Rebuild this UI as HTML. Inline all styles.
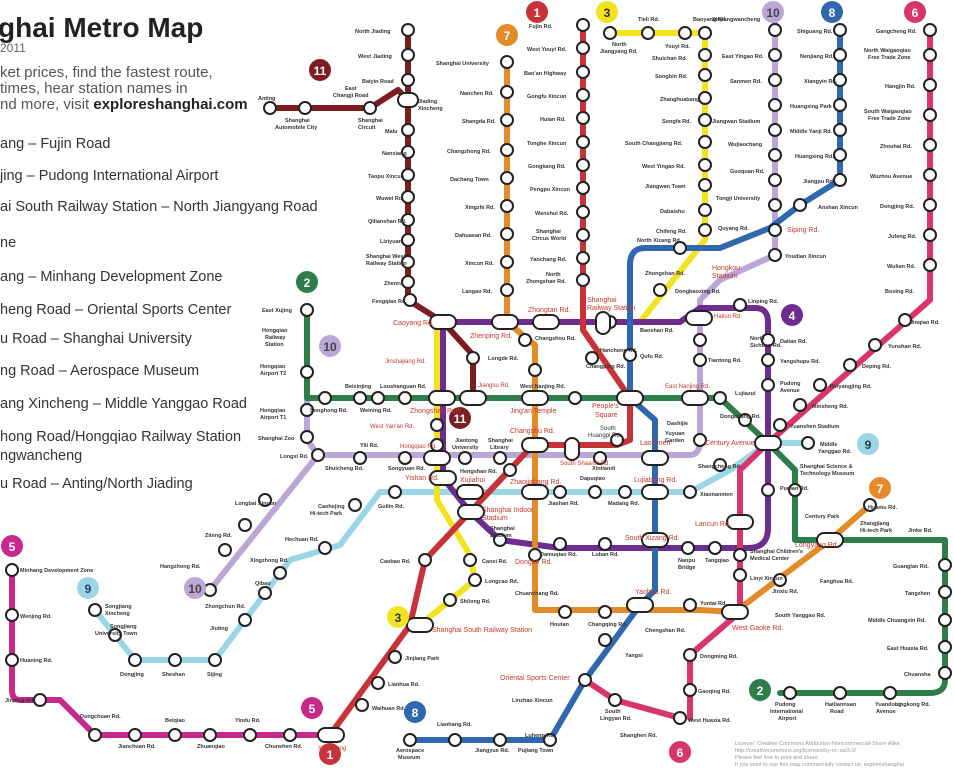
<!DOCTYPE html>
<html><head><meta charset="utf-8"><style>
html,body{margin:0;padding:0;background:#fff;width:954px;height:768px;overflow:hidden}
svg{position:absolute;left:0;top:0}
.t{font-family:"Liberation Sans",sans-serif}
</style></head><body>
<svg width="954" height="768" viewBox="0 0 954 768" xmlns="http://www.w3.org/2000/svg">
<g class="t" fill="#333">
<text x="-2" y="37" font-size="28" font-weight="bold" fill="#222">ghai Metro Map</text>
<text x="0" y="52" font-size="12" fill="#666">2011</text>
<text x="0" y="77" font-size="15" fill="#555">ket prices, find the fastest route,</text>
<text x="0" y="93" font-size="15" fill="#555">times, hear station names in</text>
<text x="0" y="109" font-size="15" fill="#555">nd more, visit <tspan font-weight="bold" fill="#222">exploreshanghai.com</tspan></text>
<g font-size="14.5" fill="#333">
<text x="0" y="148">ang – Fujin Road</text>
<text x="0" y="180">jing – Pudong International Airport</text>
<text x="0" y="211">ai South Railway Station – North Jiangyang Road</text>
<text x="0" y="247">ne</text>
<text x="0" y="281">ang – Minhang Development Zone</text>
<text x="0" y="314">heng Road – Oriental Sports Center</text>
<text x="0" y="343">u Road – Shanghai University</text>
<text x="0" y="375">ng Road – Aerospace Museum</text>
<text x="0" y="408">ang Xincheng – Middle Yanggao Road</text>
<text x="0" y="441">hong Road/Hongqiao Railway Station</text>
<text x="0" y="460">ngwancheng</text>
<text x="0" y="488">u Road – Anting/North Jiading</text>
</g>
</g>
<g fill="none" stroke-width="6" stroke-linejoin="round" stroke-linecap="round">
<path stroke="#bba6d8" d="M307,335 V440 L318,455 H690 Q700,455 700,440 V300 L720,280 L775,255 V20"/>
<path stroke="#bba6d8" d="M318,455 L210,590"/>
<path stroke="#9ad6e6" d="M95,610 L135,660 H215 L290,560 L340,545 L380,492 H690 L730,470 L768,443 H808"/>
<path stroke="#2e7d4a" d="M307,310 V398 H720 L768,443 L795,470 V540 H945 V680 Q945,693 930,693 H780"/>
<path stroke="#f2e21f" d="M610,33 H705 V240 L640,322 H437 V500 L470,555 L475,580 L420,625"/>
<path stroke="#6e2c8e" d="M443,322 H680 L700,308 H755 Q768,308 768,322 V528 Q768,548 748,548 H560 L500,540 L470,512 L443,478 V322"/>
<path stroke="#7c1d22" d="M408,30 V300 L443,322 L473,355 V398 M270,108 H370 L398,90 L408,100"/>
<path stroke="#e38a2a" d="M507,62 V322 L535,345 V610 H700 L735,612 L830,540 L870,505"/>
<path stroke="#2f68ae" d="M840,30 V180 L800,205 L770,228 L720,248 H645 Q630,248 630,265 V398 L655,420 V590 L640,605 L585,680 L550,740 H410"/>
<path stroke="#d8356e" d="M930,30 V300 L768,443 L740,470 V612 L690,655 V718 M585,680 L615,700 L680,718"/>
<path stroke="#c8333a" d="M583,25 V330 L630,398 V440 L617,445 H533 L425,560 L410,625 L330,735"/>
<path stroke="#c8288c" d="M330,735 H95 L60,700 H20 Q12,700 12,690 V570"/>
</g>
<g fill="#fff" stroke="#222" stroke-width="2">
<circle cx="307" cy="310" r="6"/><circle cx="307" cy="372" r="6"/><circle cx="307" cy="410" r="6"/><circle cx="307" cy="437" r="6"/><circle cx="318" cy="455" r="6"/><circle cx="325" cy="398" r="6"/><circle cx="360" cy="398" r="6"/><circle cx="378" cy="398" r="6"/><circle cx="405" cy="398" r="6"/><circle cx="575" cy="398" r="6"/><circle cx="720" cy="398" r="6"/><circle cx="745" cy="420" r="6"/>
<circle cx="360" cy="458" r="6"/><circle cx="405" cy="458" r="6"/><circle cx="465" cy="458" r="6"/><circle cx="500" cy="458" r="6"/><circle cx="600" cy="458" r="6"/><circle cx="700" cy="440" r="6"/><circle cx="700" cy="340" r="6"/><circle cx="700" cy="360" r="6"/>
<circle cx="775" cy="30" r="6"/><circle cx="775" cy="55" r="6"/><circle cx="775" cy="80" r="6"/><circle cx="775" cy="105" r="6"/><circle cx="775" cy="130" r="6"/><circle cx="775" cy="155" r="6"/><circle cx="775" cy="180" r="6"/><circle cx="775" cy="205" r="6"/><circle cx="775" cy="230" r="6"/><circle cx="775" cy="255" r="6"/>
<circle cx="265" cy="500" r="6"/><circle cx="245" cy="525" r="6"/><circle cx="225" cy="550" r="6"/><circle cx="210" cy="590" r="6"/>
<circle cx="95" cy="610" r="6"/><circle cx="115" cy="635" r="6"/><circle cx="135" cy="660" r="6"/><circle cx="175" cy="660" r="6"/><circle cx="215" cy="660" r="6"/><circle cx="245" cy="620" r="6"/><circle cx="265" cy="593" r="6"/><circle cx="280" cy="573" r="6"/><circle cx="325" cy="548" r="6"/><circle cx="355" cy="505" r="6"/><circle cx="395" cy="492" r="6"/><circle cx="560" cy="492" r="6"/><circle cx="595" cy="492" r="6"/><circle cx="625" cy="492" r="6"/><circle cx="690" cy="492" r="6"/><circle cx="720" cy="465" r="6"/><circle cx="808" cy="443" r="6"/>
<circle cx="795" cy="490" r="6"/><circle cx="945" cy="565" r="6"/><circle cx="945" cy="592" r="6"/><circle cx="945" cy="620" r="6"/><circle cx="945" cy="647" r="6"/><circle cx="945" cy="673" r="6"/><circle cx="890" cy="693" r="6"/><circle cx="840" cy="693" r="6"/><circle cx="790" cy="693" r="6"/>
<circle cx="610" cy="33" r="6"/><circle cx="648" cy="33" r="6"/><circle cx="685" cy="33" r="6"/><circle cx="705" cy="33" r="6"/><circle cx="705" cy="55" r="6"/><circle cx="705" cy="75" r="6"/><circle cx="705" cy="98" r="6"/><circle cx="705" cy="120" r="6"/><circle cx="705" cy="142" r="6"/><circle cx="705" cy="165" r="6"/><circle cx="705" cy="185" r="6"/><circle cx="705" cy="210" r="6"/><circle cx="705" cy="230" r="6"/><circle cx="660" cy="290" r="6"/>
<circle cx="437" cy="425" r="6"/><circle cx="437" cy="445" r="6"/><circle cx="470" cy="560" r="6"/><circle cx="475" cy="580" r="6"/><circle cx="450" cy="600" r="6"/>
<circle cx="740" cy="305" r="6"/><circle cx="768" cy="340" r="6"/><circle cx="768" cy="360" r="6"/><circle cx="768" cy="385" r="6"/><circle cx="768" cy="490" r="6"/><circle cx="715" cy="548" r="6"/><circle cx="688" cy="548" r="6"/><circle cx="605" cy="544" r="6"/><circle cx="560" cy="544" r="6"/><circle cx="500" cy="540" r="6"/><circle cx="545" cy="322" r="6"/><circle cx="610" cy="322" r="6"/>
<circle cx="408" cy="30" r="6"/><circle cx="408" cy="55" r="6"/><circle cx="408" cy="80" r="6"/><circle cx="408" cy="130" r="6"/><circle cx="408" cy="152" r="6"/><circle cx="408" cy="175" r="6"/><circle cx="408" cy="197" r="6"/><circle cx="408" cy="220" r="6"/><circle cx="408" cy="240" r="6"/><circle cx="408" cy="262" r="6"/><circle cx="408" cy="282" r="6"/><circle cx="410" cy="300" r="6"/><circle cx="270" cy="108" r="6"/><circle cx="305" cy="108" r="6"/><circle cx="370" cy="108" r="6"/><circle cx="473" cy="358" r="6"/>
<circle cx="507" cy="62" r="6"/><circle cx="507" cy="92" r="6"/><circle cx="507" cy="120" r="6"/><circle cx="507" cy="150" r="6"/><circle cx="507" cy="178" r="6"/><circle cx="507" cy="206" r="6"/><circle cx="507" cy="234" r="6"/><circle cx="507" cy="262" r="6"/><circle cx="507" cy="290" r="6"/><circle cx="525" cy="340" r="6"/><circle cx="535" cy="370" r="6"/><circle cx="535" cy="555" r="6"/><circle cx="565" cy="612" r="6"/><circle cx="605" cy="612" r="6"/><circle cx="690" cy="605" r="6"/><circle cx="780" cy="580" r="6"/><circle cx="870" cy="505" r="6"/>
<circle cx="840" cy="30" r="6"/><circle cx="840" cy="55" r="6"/><circle cx="840" cy="80" r="6"/><circle cx="840" cy="105" r="6"/><circle cx="840" cy="130" r="6"/><circle cx="840" cy="155" r="6"/><circle cx="840" cy="180" r="6"/><circle cx="800" cy="205" r="6"/><circle cx="680" cy="248" r="6"/><circle cx="630" cy="355" r="6"/><circle cx="605" cy="640" r="6"/><circle cx="585" cy="680" r="6"/><circle cx="550" cy="740" r="6"/><circle cx="500" cy="740" r="6"/><circle cx="455" cy="740" r="6"/><circle cx="410" cy="740" r="6"/>
<circle cx="930" cy="30" r="6"/><circle cx="930" cy="55" r="6"/><circle cx="930" cy="85" r="6"/><circle cx="930" cy="115" r="6"/><circle cx="930" cy="145" r="6"/><circle cx="930" cy="175" r="6"/><circle cx="930" cy="205" r="6"/><circle cx="930" cy="235" r="6"/><circle cx="930" cy="265" r="6"/><circle cx="905" cy="320" r="6"/><circle cx="875" cy="345" r="6"/><circle cx="850" cy="365" r="6"/><circle cx="820" cy="385" r="6"/><circle cx="800" cy="405" r="6"/><circle cx="780" cy="425" r="6"/><circle cx="740" cy="555" r="6"/><circle cx="740" cy="575" r="6"/><circle cx="690" cy="655" r="6"/><circle cx="690" cy="690" r="6"/><circle cx="680" cy="718" r="6"/><circle cx="615" cy="700" r="6"/>
<circle cx="583" cy="25" r="6"/><circle cx="583" cy="48" r="6"/><circle cx="583" cy="72" r="6"/><circle cx="583" cy="95" r="6"/><circle cx="583" cy="118" r="6"/><circle cx="583" cy="142" r="6"/><circle cx="583" cy="165" r="6"/><circle cx="583" cy="188" r="6"/><circle cx="583" cy="212" r="6"/><circle cx="583" cy="235" r="6"/><circle cx="583" cy="258" r="6"/><circle cx="583" cy="280" r="6"/><circle cx="592" cy="358" r="6"/><circle cx="617" cy="440" r="6"/><circle cx="510" cy="470" r="6"/><circle cx="425" cy="560" r="6"/><circle cx="395" cy="657" r="6"/><circle cx="378" cy="683" r="6"/><circle cx="362" cy="705" r="6"/>
<circle cx="290" cy="735" r="6"/><circle cx="250" cy="735" r="6"/><circle cx="210" cy="735" r="6"/><circle cx="175" cy="735" r="6"/><circle cx="135" cy="735" r="6"/><circle cx="95" cy="735" r="6"/><circle cx="40" cy="700" r="6"/><circle cx="12" cy="660" r="6"/><circle cx="12" cy="615" r="6"/><circle cx="12" cy="570" r="6"/>
<rect x="430" y="315" width="26" height="14" rx="7"/><rect x="492" y="315" width="26" height="14" rx="7"/><rect x="533" y="315" width="26" height="14" rx="7"/><rect x="596" y="312" width="14" height="22" rx="7"/><rect x="686" y="311" width="26" height="14" rx="7"/>
<rect x="429" y="391" width="26" height="14" rx="7"/><rect x="460" y="391" width="26" height="14" rx="7"/><rect x="522" y="391" width="26" height="14" rx="7"/><rect x="617" y="391" width="26" height="14" rx="7"/><rect x="682" y="391" width="26" height="14" rx="7"/>
<rect x="424" y="451" width="26" height="14" rx="7"/><rect x="522" y="438" width="26" height="14" rx="7"/><rect x="565" y="438" width="14" height="22" rx="7"/><rect x="642" y="451" width="26" height="14" rx="7"/>
<rect x="430" y="471" width="26" height="14" rx="7"/><rect x="457" y="485" width="26" height="14" rx="7"/><rect x="522" y="485" width="26" height="14" rx="7"/><rect x="642" y="485" width="26" height="14" rx="7"/><rect x="458" y="505" width="26" height="14" rx="7"/>
<rect x="755" y="436" width="26" height="14" rx="7"/><rect x="642" y="533" width="26" height="14" rx="7"/><rect x="727" y="515" width="26" height="14" rx="7"/><rect x="817" y="533" width="26" height="14" rx="7"/>
<rect x="407" y="618" width="26" height="14" rx="7"/><rect x="627" y="598" width="26" height="14" rx="7"/><rect x="722" y="605" width="26" height="14" rx="7"/><rect x="318" y="728" width="26" height="14" rx="7"/><rect x="398" y="93" width="20" height="14" rx="7"/>
</g>
<g class="t" font-size="12" font-weight="bold" fill="#fff" text-anchor="middle">
<circle cx="537" cy="12" r="11" fill="#c8333a"/><text x="537" y="17">1</text>
<circle cx="330" cy="754" r="11" fill="#c8333a"/><text x="330" y="759">1</text>
<circle cx="307" cy="282" r="11" fill="#2e7d4a"/><text x="307" y="287">2</text>
<circle cx="760" cy="690" r="11" fill="#2e7d4a"/><text x="760" y="695">2</text>
<circle cx="607" cy="12" r="11" fill="#f2e21f"/><text x="607" y="17" fill="#333">3</text>
<circle cx="398" cy="617" r="11" fill="#f2e21f"/><text x="398" y="622" fill="#333">3</text>
<circle cx="792" cy="315" r="11" fill="#6e2c8e"/><text x="792" y="320">4</text>
<circle cx="12" cy="546" r="11" fill="#c8288c"/><text x="12" y="551">5</text>
<circle cx="312" cy="708" r="11" fill="#c8288c"/><text x="312" y="713">5</text>
<circle cx="915" cy="12" r="11" fill="#d8356e"/><text x="915" y="17">6</text>
<circle cx="680" cy="752" r="11" fill="#d8356e"/><text x="680" y="757">6</text>
<circle cx="507" cy="35" r="11" fill="#e38a2a"/><text x="507" y="40">7</text>
<circle cx="880" cy="488" r="11" fill="#e38a2a"/><text x="880" y="493">7</text>
<circle cx="832" cy="12" r="11" fill="#2f68ae"/><text x="832" y="17">8</text>
<circle cx="415" cy="712" r="11" fill="#2f68ae"/><text x="415" y="717">8</text>
<circle cx="868" cy="444" r="11" fill="#9ad6e6"/><text x="868" y="449" fill="#245">9</text>
<circle cx="88" cy="588" r="11" fill="#9ad6e6"/><text x="88" y="593" fill="#245">9</text>
<circle cx="773" cy="12" r="11" fill="#bba6d8"/><text x="773" y="17" fill="#444">10</text>
<circle cx="330" cy="346" r="11" fill="#bba6d8"/><text x="330" y="351" fill="#444">10</text>
<circle cx="195" cy="588" r="11" fill="#bba6d8"/><text x="195" y="593" fill="#444">10</text>
<circle cx="320" cy="70" r="11" fill="#7c1d22"/><text x="320" y="75">11</text>
<circle cx="460" cy="418" r="11" fill="#7c1d22"/><text x="460" y="423">11</text>
</g>
<g class="t" font-size="5.5" font-weight="bold" fill="#333">
<text x="355" y="33">North Jiading</text><text x="358" y="58">West Jiading</text><text x="362" y="83">Baiyin Road</text>
<text x="258" y="100">Anting</text><text x="285" y="122">Shanghai</text><text x="275" y="129">Automobile City</text><text x="358" y="122">Shanghai</text><text x="358" y="129">Circuit</text><text x="345" y="90">East</text><text x="333" y="97">Changji Road</text><text x="418" y="103">Jiading</text><text x="418" y="110">Xincheng</text>
<text x="385" y="133">Malu</text><text x="382" y="155">Nanxiang</text><text x="368" y="178">Taopu Xincun</text><text x="376" y="200">Wuwei Rd.</text><text x="368" y="223">Qilianshan Rd.</text><text x="380" y="243">Liziyuan</text><text x="366" y="258">Shanghai West</text><text x="366" y="265">Railway Station</text><text x="384" y="285">Zhenru</text><text x="372" y="303">Fengqiao Rd.</text>
<text x="436" y="65">Shanghai University</text><text x="460" y="95">Nanchen Rd.</text><text x="462" y="123">Shangda Rd.</text><text x="447" y="153">Changzhong Rd.</text><text x="450" y="181">Dachang Town</text><text x="465" y="209">Xingzhi Rd.</text><text x="455" y="237">Dahuasan Rd.</text><text x="465" y="265">Xincun Rd.</text><text x="462" y="293">Langao Rd.</text>
<text x="529" y="28">Fujin Rd.</text><text x="527" y="51">West Youyi Rd.</text><text x="524" y="75">Bao'an Highway</text><text x="527" y="98">Gongfu Xincun</text><text x="540" y="121">Hulan Rd.</text><text x="527" y="145">Tonghe Xincun</text><text x="528" y="168">Gongkang Rd.</text><text x="530" y="191">Pengpu Xincun</text><text x="535" y="215">Wenshui Rd.</text><text x="536" y="233">Shanghai</text><text x="532" y="240">Circus World</text><text x="530" y="261">Yanchang Rd.</text><text x="546" y="276">North</text><text x="526" y="283">Zhongshan Rd.</text>
<text x="612" y="46">North</text><text x="600" y="53">Jiangyang Rd.</text><text x="638" y="21">Tieli Rd.</text><text x="665" y="48">Youyi Rd.</text><text x="693" y="21">Baoyang Rd.</text><text x="652" y="60">Shuichan Rd.</text><text x="655" y="78">Songbin Rd.</text><text x="660" y="101">Zhanghuabang</text><text x="662" y="123">Songfa Rd.</text><text x="625" y="145">South Changjiang Rd.</text><text x="642" y="168">West Yingao Rd.</text><text x="645" y="188">Jiangwan Town</text><text x="660" y="213">Dabaishu</text><text x="656" y="233">Chifeng Rd.</text><text x="637" y="242">North Xizang Rd.</text><text x="645" y="275">Zhongshan Rd.</text><text x="675" y="293">Dongbaoxing Rd.</text>
<text x="712" y="21">Xinjiangwancheng</text><text x="722" y="58">East Yingao Rd.</text><text x="730" y="83">Sanmen Rd.</text><text x="712" y="123">Jiangwan Stadium</text><text x="728" y="146">Wujiaochang</text><text x="730" y="173">Guoquan Rd.</text><text x="716" y="200">Tongji University</text><text x="718" y="230">Quyang Rd.</text><text x="785" y="258">Youdian Xincun</text>
<text x="797" y="33">Shiguang Rd.</text><text x="800" y="58">Nenjiang Rd.</text><text x="804" y="83">Xiangyin Rd.</text><text x="790" y="108">Huangxing Park</text><text x="790" y="133">Middle Yanji Rd.</text><text x="795" y="158">Huangxing Rd.</text><text x="803" y="183">Jiangpu Rd.</text><text x="818" y="209">Anshan Xincun</text>
<text x="876" y="33">Gangcheng Rd.</text><text x="864" y="52">North Waigaoqiao</text><text x="868" y="59">Free Trade Zone</text><text x="885" y="88">Hangjin Rd.</text><text x="864" y="113">South Waigaoqiao</text><text x="868" y="120">Free Trade Zone</text><text x="880" y="148">Zhouhai Rd.</text><text x="870" y="178">Wuzhou Avenue</text><text x="880" y="208">Dongjing Rd.</text><text x="888" y="238">Jufeng Rd.</text><text x="887" y="268">Wulian Rd.</text><text x="885" y="293">Boxing Rd.</text><text x="910" y="324">Jinqiao Rd.</text><text x="888" y="348">Yunshan Rd.</text><text x="862" y="368">Deping Rd.</text><text x="830" y="388">Beiyangjing Rd.</text><text x="812" y="408">Minsheng Rd.</text><text x="790" y="428">Yuanshen Stadium</text>
<text x="262" y="312">East Xujing</text><text x="262" y="332">Hongqiao</text><text x="265" y="339">Railway</text><text x="265" y="346">Station</text><text x="260" y="368">Hongqiao</text><text x="260" y="375">Airport T2</text><text x="260" y="412">Hongqiao</text><text x="260" y="419">Airport T1</text><text x="258" y="440">Shanghai Zoo</text><text x="280" y="458">Longxi Rd.</text>
<text x="310" y="412">Songhong Rd.</text><text x="345" y="388">Beixinjing</text><text x="360" y="412">Weining Rd.</text><text x="380" y="388">Loushanguan Rd.</text><text x="520" y="388">West Nanjing Rd.</text><text x="586" y="368">Changping Rd.</text><text x="735" y="395">Lujiazui</text><text x="750" y="340">North</text><text x="750" y="347">Sichuan Rd.</text><text x="708" y="362">Tiantong Rd.</text><text x="780" y="343">Dalian Rd.</text><text x="780" y="363">Yangshupu Rd.</text><text x="780" y="385">Pudong</text><text x="780" y="392">Avenue</text><text x="720" y="418">Dongchang Rd.</text><text x="748" y="303">Linping Rd.</text><text x="640" y="332">Baoshan Rd.</text><text x="600" y="352">Hanchong Rd.</text><text x="640" y="358">Qufu Rd.</text><text x="488" y="360">Longde Rd.</text><text x="535" y="340">Changshou Rd.</text><text x="667" y="425">Dashijie</text><text x="665" y="435">Yuyuan</text><text x="665" y="442">Garden</text>
<text x="325" y="470">Shuicheng Rd.</text><text x="388" y="470">Songyuan Rd.</text><text x="360" y="447">Yili Rd.</text><text x="455" y="442">Jiaotong</text><text x="452" y="449">University</text><text x="488" y="442">Shanghai</text><text x="490" y="449">Library</text><text x="460" y="473">Hengshan Rd.</text><text x="592" y="470">Xintiandi</text><text x="698" y="468">Shangcheng Rd.</text><text x="820" y="446">Middle</text><text x="818" y="453">Yanggao Rd.</text><text x="800" y="468">Shanghai Science &amp;</text><text x="800" y="475">Technology Museum</text>
<text x="378" y="508">Guilin Rd.</text><text x="548" y="505">Jiashan Rd.</text><text x="580" y="480">Dapuqiao</text><text x="608" y="505">Madang Rd.</text><text x="700" y="496">Xiaonanmen</text><text x="780" y="490">Pudian Rd.</text>
<text x="490" y="530">Shanghai</text><text x="490" y="537">Stadium</text><text x="540" y="556">Damuqiao Rd.</text><text x="592" y="556">Luban Rd.</text><text x="678" y="562">Nanpu</text><text x="678" y="569">Bridge</text><text x="705" y="562">Tangqiao</text><text x="750" y="553">Shanghai Children's</text><text x="750" y="560">Medical Center</text><text x="750" y="580">Linyi Xincun</text><text x="805" y="518">Century Park</text><text x="860" y="525">Zhangjiang</text><text x="860" y="532">Hi-tech Park</text><text x="908" y="532">Jinke Rd.</text><text x="820" y="583">Fanghua Rd.</text><text x="772" y="593">Jinxiu Rd.</text><text x="775" y="617">South Yanggao Rd.</text><text x="868" y="509">Huamu Rd.</text>
<text x="893" y="568">Guanglan Rd.</text><text x="905" y="595">Tangzhen</text><text x="868" y="622">Middle Chuangxin Rd.</text><text x="887" y="650">East Huaxia Rd.</text><text x="904" y="676">Chuansha</text><text x="775" y="706">Pudong</text><text x="770" y="713">International</text><text x="778" y="720">Airport</text><text x="825" y="706">Haitiannsan</text><text x="830" y="713">Road</text><text x="875" y="706">Yuandong</text><text x="876" y="713">Avenue</text><text x="895" y="706">Lingkong Rd.</text>
<text x="380" y="563">Caobao Rd.</text><text x="482" y="563">Caoxi Rd.</text><text x="485" y="583">Longcao Rd.</text><text x="460" y="603">Shilong Rd.</text><text x="515" y="595">Chuanchang Rd.</text><text x="550" y="626">Houtan</text><text x="588" y="626">Changqing Rd.</text><text x="700" y="605">Yuntai Rd.</text><text x="645" y="632">Chengshan Rd.</text><text x="625" y="657">Yangsi</text><text x="700" y="658">Dongming Rd.</text><text x="698" y="693">Gaoqing Rd.</text><text x="688" y="722">West Huaxia Rd.</text><text x="605" y="713">South</text><text x="600" y="720">Lingyan Rd.</text><text x="620" y="737">Shanghen Rd.</text><text x="512" y="702">Linzhao Xincun</text><text x="525" y="737">Luheng Rd.</text><text x="437" y="726">Lianhang Rd.</text><text x="475" y="752">Jiangyue Rd.</text><text x="518" y="752">Pujiang Town</text><text x="396" y="752">Aerospace</text><text x="398" y="759">Museum</text>
<text x="405" y="660">Jinjiang Park</text><text x="388" y="686">Lianhua Rd.</text><text x="372" y="710">Waihuan Rd.</text><text x="265" y="748">Chunshen Rd.</text><text x="235" y="722">Yindu Rd.</text><text x="197" y="748">Zhuanqiao</text><text x="165" y="722">Beiqiao</text><text x="118" y="748">Jianchuan Rd.</text><text x="80" y="718">Dongchuan Rd.</text><text x="5" y="702">Jinping Rd.</text><text x="20" y="662">Huaning Rd.</text><text x="20" y="618">Wenjing Rd.</text><text x="20" y="572">Minhang Development Zone</text>
<text x="105" y="608">Songjiang</text><text x="105" y="615">Xincheng</text><text x="110" y="628">Songjiang</text><text x="95" y="635">University Town</text><text x="120" y="676">Dongjing</text><text x="162" y="676">Sheshan</text><text x="207" y="676">Sijing</text><text x="210" y="630">Jiuting</text><text x="205" y="608">Zhongchun Rd.</text><text x="255" y="585">Qibao</text><text x="250" y="562">Xingzhong Rd.</text><text x="285" y="541">Hechuan Rd.</text><text x="318" y="508">Caohejing</text><text x="310" y="515">Hi-tech Park</text><text x="235" y="505">Longbai Xincun</text><text x="205" y="537">Ziteng Rd.</text><text x="160" y="568">Hangzhong Rd.</text>
</g>
<g class="t" font-size="7" fill="#c0392b">
<text x="393" y="325">Caoyang Rd.</text><text x="470" y="338">Zhenping Rd.</text><text x="528" y="312">Zhongtan Rd.</text><text x="587" y="302">Shanghai</text><text x="587" y="310">Railway Station</text><text x="714" y="318" font-size="6">Hailun Rd.</text><text x="712" y="270">Hongkou</text><text x="712" y="278">Stadium</text><text x="787" y="232">Siping Rd.</text>
<text x="385" y="363" font-size="6">Jinshajiang Rd.</text><text x="478" y="387" font-size="6">Jiangsu Rd.</text><text x="410" y="413">Zhongshan Park</text><text x="510" y="413">Jing'an Temple</text><text x="592" y="408">People's</text><text x="595" y="417">Square</text><text x="665" y="388" font-size="6">East Nanjing Rd.</text><text x="370" y="428" font-size="6">West Yan'an Rd.</text><text x="400" y="448" font-size="6">Hongqiao Rd.</text><text x="510" y="433">Changshu Rd.</text><text x="600" y="430" fill="#333" font-size="6">South</text><text x="588" y="437" fill="#333" font-size="6">Huangpi Rd.</text><text x="560" y="465" font-size="6">South Shaanxi Rd.</text><text x="640" y="445">Laoximen</text><text x="705" y="445">Century Avenue</text>
<text x="405" y="480">Yishan Rd.</text><text x="460" y="482">Xujiahui</text><text x="510" y="484">Zhaojiabang Rd.</text><text x="634" y="482">Lujiabang Rd.</text><text x="482" y="512">Shanghai Indoor</text><text x="482" y="520">Stadium</text><text x="625" y="540">South Xizang Rd.</text><text x="515" y="564">Dongan Rd.</text><text x="695" y="526">Lancun Rd.</text><text x="795" y="547">Longyang Rd.</text><text x="635" y="594">Yaohua Rd.</text><text x="732" y="630">West Gaoke Rd.</text><text x="432" y="632">Shanghai South Railway Station</text><text x="500" y="680">Oriental Sports Center</text><text x="318" y="750" font-size="6">Xinzhuang</text>
</g>
<g class="t" font-size="5.5" fill="#999"><text x="735" y="745">License: Creative Commons Attribution-Noncommercial-Share Alike</text><text x="735" y="752">http://creativecommons.org/licenses/by-nc-sa/3.0/</text><text x="735" y="759">Please feel free to print and share.</text><text x="735" y="766">If you want to use this map commercially contact us: exploreshanghai</text></g>
</svg>
</body></html>
